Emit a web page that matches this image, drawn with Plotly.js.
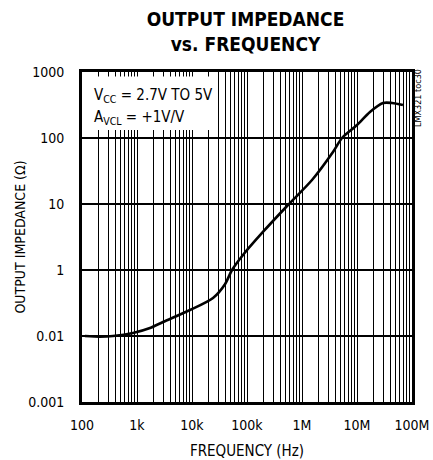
<!DOCTYPE html>
<html>
<head>
<meta charset="utf-8">
<script src="https://cdn.plot.ly/plotly-3.0.1.min.js"></script>
<style>html,body{margin:0;padding:0;background:#fff;}#chart{width:433px;height:460px;}</style>
</head>
<body>
<div id="chart"></div>
<script>
// Frequency (Hz) and output impedance (ohm, in axis units)
const freqHz = [113, 212, 366, 846, 1722, 2970, 9200, 24100, 39800, 53400, 84500, 195000, 556000, 1520000, 3660000, 5340000, 10000000, 17200000, 29700000, 43300000, 68500000];
const impedance = [0.1, 0.098, 0.1, 0.111, 0.132, 0.163, 0.248, 0.377, 0.61, 1.0, 1.69, 3.77, 9.66, 23.1, 61.4, 100, 157, 248, 339, 339, 316];
const xTickVals = [1e2, 1e3, 1e4, 1e5, 1e6, 1e7, 1e8];
const xTickText = ["100", "1k", "10k", "100k", "1M", "10M", "100M"];
const yTickVals = [0.01, 0.1, 1, 10, 100, 1000];
const yTickText = ["0.001", "0.01", "1", "10", "100", "1000"];

const FONT = '"Liberation Sans Narrow", "DejaVu Sans Condensed", Arial, sans-serif';

const trace = {
  x: freqHz, y: impedance, type: 'scatter', mode: 'lines',
  line: {color: '#000', width: 2.6, shape: 'spline', smoothing: 0.8},
  hoverinfo: 'skip'
};

const layout = {
  width: 433, height: 460,
  margin: {l: 82, r: 21, t: 72, b: 58},
  paper_bgcolor: '#fff', plot_bgcolor: '#fff',
  showlegend: false,
  font: {family: FONT, color: '#000', size: 14},
  title: {
    text: '<b>OUTPUT IMPEDANCE<br>vs. FREQUENCY</b>',
    font: {family: FONT, size: 19, color: '#000'},
    x: 0.567, xanchor: 'center', yref: 'container', y: 0.943, yanchor: 'top'
  },
  xaxis: {
    type: 'log', range: [2, 8],
    tickvals: xTickVals, ticktext: xTickText,
    ticks: '', showline: true, linewidth: 3, linecolor: '#000', mirror: true,
    showgrid: true, gridcolor: '#000', gridwidth: 1,
    minor: {dtick: 'D1', showgrid: true, gridcolor: '#000', gridwidth: 1, ticks: ''},
    zeroline: false, ticklabelstandoff: 8,
    tickfont: {family: FONT, size: 14, color: '#000'},
    title: {text: 'FREQUENCY (Hz)', font: {family: FONT, size: 15, color: '#000'}, standoff: 14}
  },
  yaxis: {
    type: 'log', range: [-2, 3],
    tickvals: yTickVals, ticktext: yTickText,
    ticks: '', showline: true, linewidth: 3, linecolor: '#000', mirror: true,
    showgrid: true, gridcolor: '#000', gridwidth: 1.2,
    zeroline: false, ticklabelstandoff: 12,
    tickfont: {family: FONT, size: 14, color: '#000'},
    title: {text: 'OUTPUT IMPEDANCE (Ω)', font: {family: FONT, size: 14, color: '#000'}, standoff: 0}
  },
  shapes: [
    {type: 'rect', xref: 'paper', yref: 'paper', x0: 0.005, x1: 0.397, y0: 0.824, y1: 0.986,
     fillcolor: '#fff', line: {width: 0}, layer: 'above'}
  ],
  annotations: [
    {
      xref: 'paper', yref: 'paper', x: 0.03, y: 0.93, xanchor: 'left', yanchor: 'middle',
      text: 'V<sub>CC</sub> = 2.7V TO 5V', showarrow: false,
      font: {family: FONT, size: 15, color: '#000'}
    },
    {
      xref: 'paper', yref: 'paper', x: 0.03, y: 0.862, xanchor: 'left', yanchor: 'middle',
      text: 'A<sub>VCL</sub> = +1V/V', showarrow: false,
      font: {family: FONT, size: 15, color: '#000'}
    },
    {
      xref: 'paper', yref: 'paper', x: 1.018, y: 0.921, xanchor: 'center', yanchor: 'middle',
      text: 'LMX321 toc30', textangle: -90, showarrow: false,
      font: {family: FONT, size: 9, color: '#000'}
    }
  ]
};

Plotly.newPlot('chart', [trace], layout, {staticPlot: true, displayModeBar: false});
</script>
</body>
</html>
